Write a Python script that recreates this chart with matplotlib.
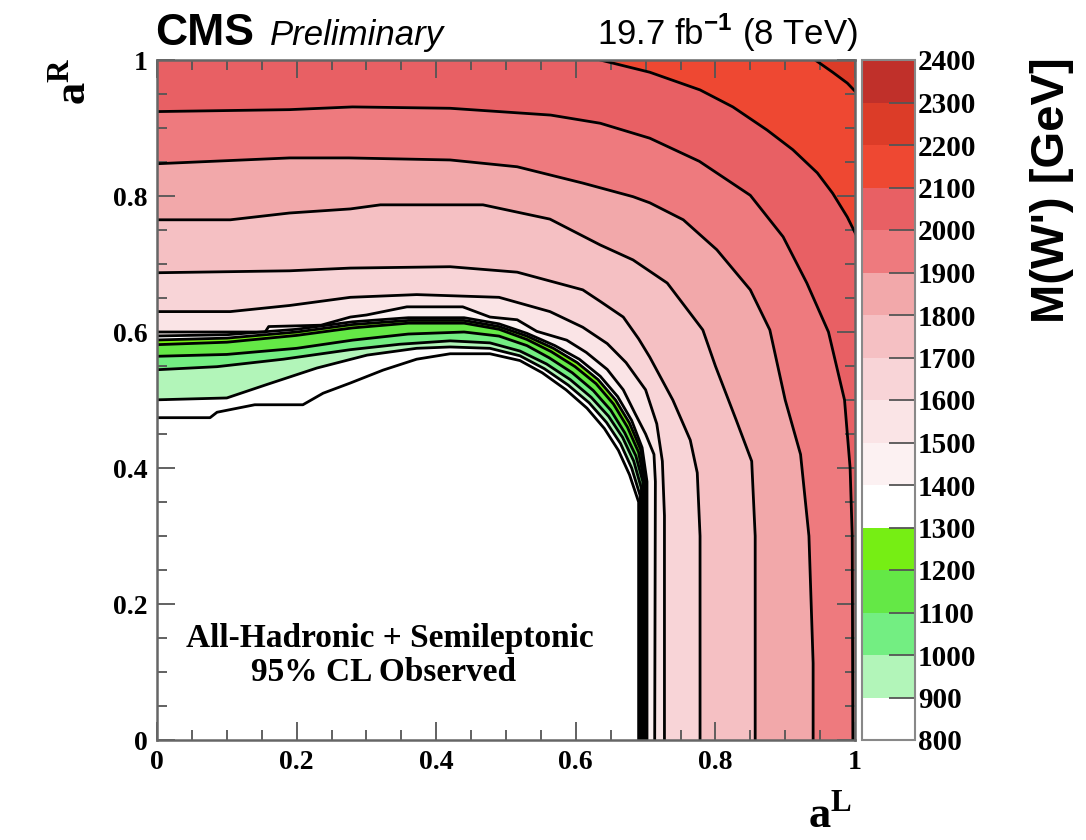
import matplotlib
matplotlib.use('Agg')
import matplotlib.pyplot as plt
from matplotlib.colors import ListedColormap, BoundaryNorm
from matplotlib.cm import ScalarMappable
from matplotlib.ticker import FixedLocator, FixedFormatter

plt.rcParams['font.family'] = ['Liberation Serif', 'DejaVu Serif']
plt.rcParams['font.weight'] = 'bold'
plt.rcParams['mathtext.fontset'] = 'custom'
plt.rcParams['mathtext.rm'] = 'Liberation Serif'
plt.rcParams['mathtext.bf'] = 'Liberation Serif:bold'
plt.rcParams['mathtext.sf'] = 'Liberation Sans'

# ---------------- data ----------------
LEVELS = [800, 900, 1000, 1100, 1200, 1300, 1400, 1500, 1600, 1700,
          1800, 1900, 2000, 2100, 2200, 2300, 2400]
BAND_COLORS = ['#ffffff', '#b2f5b9', '#73ee82', '#64e846', '#76ee14',
               '#ffffff', '#fcf1f2', '#fae4e6', '#f8d4d7', '#f5c0c3',
               '#f2a8aa', '#ee7a7e', '#e86064', '#ee4832', '#dc3c28',
               '#c0302a']
AXIS_TICKS = [0, 0.2, 0.4, 0.6, 0.8, 1]
AXIS_TICK_LABELS = ['0', '0.2', '0.4', '0.6', '0.8', '1']

# contour lines of M(W') in (aL, aR)
C800 = [(-0.01, 0.474), (0.076, 0.474), (0.086, 0.482), (0.140, 0.493), (0.209, 0.493),
        (0.238, 0.510), (0.277, 0.525), (0.324, 0.544), (0.372, 0.560), (0.42, 0.568),
        (0.477, 0.568), (0.52, 0.558), (0.552, 0.540), (0.586, 0.515), (0.616, 0.488),
        (0.641, 0.458), (0.661, 0.426), (0.677, 0.39), (0.690, 0.35), (0.690, -0.01)]
C900 = [(-0.01, 0.500), (0.10, 0.503), (0.158, 0.523), (0.229, 0.547), (0.301, 0.566),
        (0.372, 0.576), (0.42, 0.578), (0.477, 0.576), (0.52, 0.565), (0.555, 0.546),
        (0.589, 0.522), (0.619, 0.496), (0.644, 0.467), (0.664, 0.436), (0.68, 0.40),
        (0.692, 0.36), (0.692, -0.01)]
C1000 = [(-0.01, 0.544), (0.086, 0.549), (0.181, 0.560), (0.277, 0.574), (0.348, 0.582),
         (0.42, 0.587), (0.477, 0.584), (0.52, 0.572), (0.558, 0.553), (0.592, 0.530),
         (0.622, 0.504), (0.647, 0.476), (0.667, 0.445), (0.683, 0.41), (0.694, 0.37),
         (0.694, -0.01)]
C1100 = [(-0.01, 0.564), (0.1, 0.567), (0.2, 0.576), (0.28, 0.588), (0.36, 0.597),
         (0.44, 0.600), (0.49, 0.594), (0.53, 0.580), (0.562, 0.562), (0.595, 0.540),
         (0.625, 0.514), (0.65, 0.485), (0.67, 0.452), (0.686, 0.418), (0.696, 0.38),
         (0.696, -0.01)]
C1200 = [(-0.01, 0.581), (0.1, 0.585), (0.2, 0.595), (0.28, 0.606), (0.36, 0.613),
         (0.44, 0.613), (0.49, 0.604), (0.53, 0.589), (0.565, 0.571), (0.599, 0.549),
         (0.629, 0.524), (0.654, 0.494), (0.674, 0.46), (0.69, 0.423), (0.698, 0.38),
         (0.698, -0.01)]
C1300 = [(-0.01, 0.588), (0.1, 0.591), (0.2, 0.600), (0.28, 0.611), (0.36, 0.617),
         (0.44, 0.617), (0.49, 0.608), (0.53, 0.594), (0.568, 0.576), (0.602, 0.555),
         (0.632, 0.53), (0.657, 0.5), (0.677, 0.466), (0.693, 0.427), (0.700, 0.38),
         (0.700, -0.01)]
C1400 = [(-0.01, 0.594), (0.1, 0.596), (0.2, 0.604), (0.28, 0.615), (0.36, 0.621),
         (0.44, 0.621), (0.49, 0.612), (0.53, 0.598), (0.57, 0.58), (0.605, 0.56),
         (0.635, 0.535), (0.66, 0.505), (0.68, 0.47), (0.695, 0.43), (0.702, 0.38),
         (0.702, -0.01)]
C1500 = [(-0.01, 0.600), (0.155, 0.600), (0.16, 0.608), (0.235, 0.610), (0.277, 0.622),
         (0.30, 0.625), (0.358, 0.637), (0.438, 0.637), (0.477, 0.622), (0.516, 0.618),
         (0.544, 0.601), (0.587, 0.588), (0.615, 0.570), (0.645, 0.545), (0.668, 0.515),
         (0.685, 0.48), (0.700, 0.45), (0.712, 0.42), (0.714, 0.38), (0.713, -0.01)]
C1600 = [(-0.01, 0.630), (0.105, 0.630), (0.19, 0.639), (0.277, 0.651), (0.372, 0.655),
         (0.49, 0.651), (0.563, 0.630), (0.61, 0.607), (0.645, 0.583), (0.672, 0.555),
         (0.70, 0.515), (0.716, 0.465), (0.724, 0.41), (0.727, 0.33), (0.727, -0.01)]
C1700 = [(-0.01, 0.687), (0.19, 0.690), (0.277, 0.694), (0.42, 0.696), (0.516, 0.688),
         (0.61, 0.662), (0.635, 0.645), (0.668, 0.622), (0.69, 0.59), (0.706, 0.563),
         (0.739, 0.50), (0.764, 0.441), (0.774, 0.393), (0.778, 0.30), (0.778, -0.01)]
C1800 = [(-0.01, 0.765), (0.105, 0.765), (0.19, 0.775), (0.277, 0.781), (0.32, 0.787),
         (0.467, 0.787), (0.563, 0.766), (0.635, 0.728), (0.682, 0.706), (0.731, 0.672),
         (0.768, 0.622), (0.782, 0.603), (0.80, 0.55), (0.83, 0.47), (0.852, 0.41),
         (0.857, 0.30), (0.857, -0.01)]
C1900 = [(-0.01, 0.847), (0.19, 0.856), (0.275, 0.856), (0.42, 0.853), (0.516, 0.843),
         (0.61, 0.819), (0.682, 0.799), (0.706, 0.790), (0.754, 0.765), (0.802, 0.721),
         (0.850, 0.662), (0.878, 0.603), (0.90, 0.50), (0.922, 0.42), (0.934, 0.30),
         (0.940, 0.113), (0.940, -0.01)]
C2000 = [(-0.01, 0.924), (0.19, 0.927), (0.28, 0.931), (0.42, 0.929), (0.564, 0.919),
         (0.635, 0.907), (0.706, 0.885), (0.777, 0.851), (0.85, 0.801), (0.897, 0.74),
         (0.931, 0.672), (0.962, 0.60), (0.985, 0.50), (0.993, 0.40), (0.996, 0.30),
         (0.997, -0.01)]
C2100 = [(0.60, 1.02), (0.635, 1.0), (0.706, 0.982), (0.778, 0.956), (0.825, 0.931),
         (0.874, 0.897), (0.911, 0.868), (0.946, 0.834), (0.968, 0.804), (0.989, 0.769),
         (1.003, 0.740), (1.02, 0.71)]
C2200 = [(0.925, 1.02), (0.943, 1.0), (0.968, 0.982), (0.989, 0.966), (1.003, 0.951),
         (1.02, 0.93)]

CURVES = [C800, C900, C1000, C1100, C1200, C1300, C1400, C1500,
          C1600, C1700, C1800, C1900, C2000, C2100, C2200]

# ---------------- figure ----------------
W, H = 1086, 840
fig = plt.figure(figsize=(W / 100, H / 100), dpi=100)
ax = fig.add_axes([157 / W, 1 - 740 / H, 698 / W, 680 / H])
cax = fig.add_axes([862 / W, 1 - 740 / H, 53 / W, 680 / H])

# filled bands (painted outward, each region beyond a contour gets its band colour)
for curve, col in zip(CURVES, BAND_COLORS):
    xs = [p[0] for p in curve]
    ys = [p[1] for p in curve]
    px = xs + [1.5, 1.5, xs[0]]
    py = ys + [ys[-1], 1.5, 1.5]
    ax.fill(px, py, color=col, lw=0, zorder=1)
for curve in CURVES:
    ax.plot([p[0] for p in curve], [p[1] for p in curve], color='black',
            lw=2.0, solid_joinstyle='round', zorder=3)

ax.set_xlim(0, 1)
ax.set_ylim(0, 1)
for axis in (ax.xaxis, ax.yaxis):
    axis.set_major_locator(FixedLocator(AXIS_TICKS))
    axis.set_major_formatter(FixedFormatter(AXIS_TICK_LABELS))
    axis.set_minor_locator(FixedLocator([i * 0.05 for i in range(21)]))
ax.tick_params(which='both', direction='in', top=True, right=True,
               color='#555555', width=1.3, labelsize=20, pad=7)
ax.tick_params(which='major', length=13)
ax.tick_params(which='minor', length=7)
for sp in ax.spines.values():
    sp.set_color('#666666')
    sp.set_linewidth(1.8)
    sp.set_zorder(5)

# colour bar
cmap = ListedColormap(BAND_COLORS)
norm = BoundaryNorm(LEVELS, cmap.N)
cb = fig.colorbar(ScalarMappable(norm=norm, cmap=cmap), cax=cax, ticks=LEVELS)
cb.outline.set_edgecolor('#888888')
cb.outline.set_linewidth(1.5)
cax.tick_params(direction='in', length=19, width=1.3, color='#555555',
                labelsize=21, pad=2)
cax.set_yticklabels([str(v) for v in LEVELS])

# texts
fig.text(155 / W, 1 - 45 / H, 'CMS', family='Liberation Sans', weight='bold',
         fontsize=32, ha='left', va='baseline')
fig.text(270 / W, 1 - 45 / H, 'Preliminary', family='Liberation Sans',
         style='italic', weight='normal', fontsize=25, ha='left', va='baseline')
fig.text(858 / W, 1 - 45 / H, r'19.7 fb$^{\mathsf{-1}}$ (8 TeV)',
         family='Liberation Sans', weight='normal', fontsize=25,
         ha='right', va='baseline')
fig.text(1052 / W, 1 - 57 / H, "M(W') [GeV]", family='Liberation Sans',
         weight='bold', fontsize=34, rotation=90, ha='center', va='top')
fig.text(852 / W, 1 - 828 / H, r'$\mathbf{a}^{\mathbf{L}}$', fontsize=32,
         ha='right', va='baseline')
fig.text(95 / W, 1 - 58 / H, r'$\mathbf{a}^{\mathbf{R}}$', fontsize=32,
         rotation=90, ha='right', va='top')
ax.text(0.334, 0.137, 'All-Hadronic + Semileptonic', transform=ax.transAxes,
        fontsize=24, ha='center', va='baseline', zorder=6)
ax.text(0.324, 0.087, '95% CL Observed', transform=ax.transAxes,
        fontsize=24, ha='center', va='baseline', zorder=6)

fig.savefig('out.png', dpi=100)
